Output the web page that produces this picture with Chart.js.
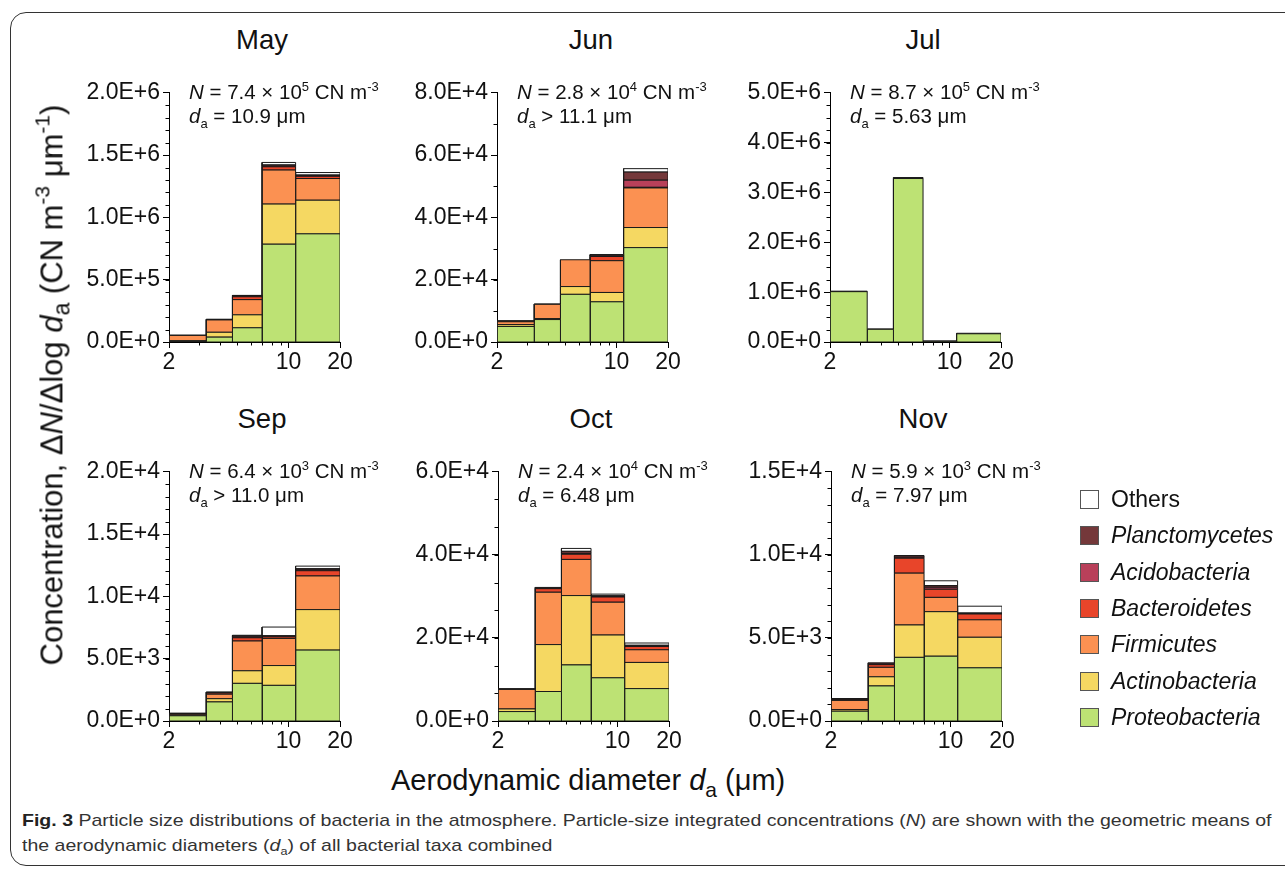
<!DOCTYPE html>
<html>
<head>
<meta charset="utf-8">
<script src="https://cdn.jsdelivr.net/npm/chart.js@4"></script>
<style>
  body { margin: 0; background: #fff; font-family: 'Liberation Sans', Arial, sans-serif; color: #111; }
  #page { position: relative; width: 1285px; height: 871px; overflow: hidden; }
  #frame { position: absolute; left: 10px; top: 12px; width: 1320px; height: 854px;
           border: 1.5px solid #333; border-radius: 16px; box-sizing: border-box; }
  .panel { position: absolute; }
  .title { position: absolute; font-size: 27.5px; transform: translate(-50%, -50%); white-space: nowrap; }
  .note  { position: absolute; font-size: 20.5px; white-space: nowrap; line-height: 1; }
  .note sup { font-size: 13px; vertical-align: 8px; }
  .note sub { font-size: 13px; vertical-align: -5px; }
  .axtitle { position: absolute; font-size: 29px; white-space: nowrap; line-height: 1; }
  .axtitle sup { font-size: 19px; vertical-align: 12px; }
  .axtitle sub { font-size: 21px; vertical-align: -7px; }
  #ytitle { font-size: 31px; }
  #ytitle sup { font-size: 21px; vertical-align: 13px; }
  #ytitle sub { font-size: 23px; vertical-align: -7px; }
  #legend { position: absolute; left: 1080px; top: 490px; }
  .lrow { position: absolute; left: 0; height: 20px; white-space: nowrap; }
  .lbox { position: absolute; left: 0; top: 0; width: 19px; height: 19px; border: 1px solid #555; box-sizing: border-box; }
  .ltxt { position: absolute; left: 31px; top: -4px; font-size: 23px; }
  .cap { position: absolute; left: 22px; font-size: 17px; color: #333; white-space: nowrap;
         font-family: 'Liberation Sans Narrow', 'Liberation Sans', sans-serif; transform-origin: 0 50%; }
  .cap b { color: #222; }
</style>
</head>
<body>
<div id="page">
  <div id="frame"></div>
  <div id="panels"></div>
  <div class="axtitle" id="ytitle">Concentration, Δ<i>N</i>/Δlog <i>d</i><sub>a</sub> (CN m<sup>-3</sup> μm<sup>-1</sup>)</div>
  <div class="axtitle" id="xtitle">Aerodynamic diameter <i>d</i><sub>a</sub> (μm)</div>
  <div id="legend"></div>
  <div class="cap" id="cap1" style="top:811px"><b>Fig. 3</b> Particle size distributions of bacteria in the atmosphere. Particle-size integrated concentrations (<i>N</i>) are shown with the geometric means of</div>
  <div class="cap" id="cap2" style="top:836px">the aerodynamic diameters (<i>d</i><sub style="font-size:11px">a</sub>) of all bacterial taxa combined</div>
</div>
<script>
// ── DATA ──────────────────────────────────────────
// size bin edges (µm) and taxa, bottom of stack first
const EDGES  = [2, 3.3, 4.7, 7.0, 11, 20];
const TAXA   = ['Proteobacteria', 'Actinobacteria', 'Firmicutes', 'Bacteroidetes', 'Acidobacteria', 'Planctomycetes', 'Others'];
const COLORS = ['#bde274', '#f5d862', '#fb9152', '#e8452a', '#b9405a', '#74383a', '#ffffff'];

const MONTHS = ['May', 'Jun', 'Jul', 'Sep', 'Oct', 'Nov'];
const Y_MAX   = [2e6, 8e4, 5e6, 2e4, 6e4, 1.5e4];
const Y_STEP  = [5e5, 2e4, 1e6, 5e3, 2e4, 5e3];
const Y_MINOR = [1e5, 1e4, 2.5e5, 1e3, 2e4 / 3, 1e3];
const X_TICKS = [2, 10, 20];
const X_MINOR = [3, 4, 5, 6, 7, 8, 9];

const N_MANT = ['7.4', '2.8', '8.7', '6.4', '2.4', '5.9'];
const N_EXP  = [5, 4, 5, 3, 4, 3];
const DA_OP  = ['=', '>', '=', '>', '=', '='];
const DA_VAL = ['10.9', '11.1', '5.63', '11.0', '6.48', '7.97'];

// rows follow TAXA order, columns follow the 5 size bins
const MAY = [
  [5e3, 3.9e4, 1.14e5, 7.85e5, 8.68e5],
  [5e3, 3.9e4, 1.04e5, 3.22e5, 2.70e5],
  [4.3e4, 9.9e4, 1.22e5, 2.73e5, 1.74e5],
  [2e3, 4e3, 2.3e4, 2.6e4, 1.8e4],
  [0, 0, 2e3, 5e3, 4e3],
  [0, 1e3, 8e3, 1e4, 6e3],
  [0, 0, 1e3, 2e4, 2e4]
];
const JUN = [
  [5.0e3, 7.2e3, 1.53e4, 1.29e4, 3.03e4],
  [6e2, 3e2, 2.5e3, 3.0e3, 6.45e3],
  [9e2, 4.6e3, 8.6e3, 1.02e4, 1.27e4],
  [2e2, 1e2, 0, 1.35e3, 2e2],
  [0, 0, 0, 1e2, 2.3e3],
  [1e2, 0, 0, 4e2, 2.6e3],
  [0, 0, 0, 1e2, 1.1e3]
];
const JUL = [
  [1.01e6, 2.55e5, 3.28e6, 1.5e4, 1.65e5],
  [0, 0, 0, 0, 0],
  [0, 0, 0, 0, 0],
  [0, 0, 0, 0, 0],
  [0, 0, 0, 0, 0],
  [0, 0, 0, 0, 0],
  [1e4, 5e3, 2e4, 5e3, 1e4]
];
const SEP = [
  [4.2e2, 1.53e3, 3.02e3, 2.86e3, 5.69e3],
  [6e1, 2.6e2, 1.01e3, 1.59e3, 3.25e3],
  [8e1, 3.6e2, 2.39e3, 2.18e3, 2.70e3],
  [3e1, 1e2, 2.6e2, 1.3e2, 4.2e2],
  [0, 0, 5e1, 3e1, 6e1],
  [2e1, 5e1, 1e2, 5e1, 1e2],
  [1e1, 2e1, 5e1, 7.0e2, 2.1e2]
];
const OCT = [
  [2.27e3, 7.1e3, 1.35e4, 1.04e4, 7.8e3],
  [6.3e2, 1.13e4, 1.67e4, 1.03e4, 6.3e3],
  [4.7e3, 1.26e4, 8.7e3, 7.9e3, 3.05e3],
  [1e2, 8.6e2, 1.25e3, 1.25e3, 7.8e2],
  [0, 1e2, 2e2, 1e2, 1e2],
  [5e1, 2e2, 5e2, 2e2, 2e2],
  [0, 0, 7e2, 4e2, 5.5e2]
];
const NOV = [
  [5.9e2, 2.11e3, 3.83e3, 3.9e3, 3.2e3],
  [1e2, 5.5e2, 1.95e3, 2.68e3, 1.84e3],
  [5.5e2, 5.7e2, 3.12e3, 8.6e2, 1.05e3],
  [6e1, 1.6e2, 9e2, 4.9e2, 3.5e2],
  [2e1, 5e1, 6e1, 1.2e2, 3e1],
  [3e1, 6e1, 1e2, 1e2, 3e1],
  [0, 0, 0, 2.9e2, 4.1e2]
];
const SERIES = [MAY, JUN, JUL, SEP, OCT, NOV];

// ── LAYOUT ────────────────────────────────────────
const PLOT_LEFT = [169, 497, 830, 169, 498, 831];
const PLOT_TOP  = [86, 86, 86, 465, 465, 465];
const TITLE_X   = [262, 591, 923, 262, 591, 923];
const PLOT_W = 171, PLOT_H = 256;
const PAD_L = 120, PAD_T = 10, PAD_R = 20, PAD_B = 40;
const FONT = "'Liberation Sans', Arial, sans-serif";

// minor ticks, drawn through the chart's own scales
const minorTicks = {
  id: 'minorTicks',
  afterDraw(chart, args, opts) {
    const { ctx, chartArea, scales: { x, y } } = chart;
    ctx.save();
    ctx.strokeStyle = '#000';
    ctx.lineWidth = 1;
    ctx.beginPath();
    const steps = Math.round(opts.yMax / opts.yMinor);
    for (let k = 1; k < steps; k++) {
      const py = Math.round(y.getPixelForValue(k * opts.yMinor)) + 0.5;
      ctx.moveTo(chartArea.left - 3.5, py);
      ctx.lineTo(chartArea.left, py);
    }
    X_MINOR.forEach(v => {
      const px = Math.round(x.getPixelForValue(v)) + 0.5;
      ctx.moveTo(px, chartArea.bottom);
      ctx.lineTo(px, chartArea.bottom + 3.5);
    });
    ctx.stroke();
    ctx.restore();
  }
};

function buildRects(series) {
  const sets = [];
  for (let b = 0; b < EDGES.length - 1; b++) {
    let base = 0;
    for (let t = 0; t < TAXA.length; t++) {
      const v = series[t][b];
      if (v > 0) {
        const x0 = EDGES[b], x1 = EDGES[b + 1], top = base + v;
        sets.push({
          label: TAXA[t],
          data: [{ x: x0, y: base }, { x: x1, y: base }, { x: x1, y: top }, { x: x0, y: top }, { x: x0, y: base }],
          showLine: true,
          fill: 'shape',
          backgroundColor: COLORS[t],
          borderColor: '#1a1a1a',
          borderWidth: 1,
          borderJoinStyle: 'miter',
          pointRadius: 0,
          pointHoverRadius: 0,
          tension: 0
        });
      }
      base += v;
    }
  }
  return sets;
}

const panels = document.getElementById('panels');
MONTHS.forEach((m, i) => {
  const W = PAD_L + PLOT_W + PAD_R, H = PAD_T + PLOT_H + PAD_B;
  const box = document.createElement('div');
  box.className = 'panel';
  box.style.left = (PLOT_LEFT[i] - PAD_L) + 'px';
  box.style.top = (PLOT_TOP[i] - PAD_T) + 'px';
  box.innerHTML = `<canvas width="${W}" height="${H}"></canvas>`;
  panels.appendChild(box);

  const t = document.createElement('div');
  t.className = 'title';
  t.style.left = TITLE_X[i] + 'px';
  t.style.top = (PLOT_TOP[i] - 46) + 'px';
  t.textContent = m;
  panels.appendChild(t);

  const n1 = document.createElement('div');
  n1.className = 'note';
  n1.style.left = (PLOT_LEFT[i] + 20) + 'px';
  n1.style.top = (PLOT_TOP[i] - 6) + 'px';
  n1.innerHTML = `<i>N</i> = ${N_MANT[i]} × 10<sup>${N_EXP[i]}</sup> CN m<sup>-3</sup>`;
  panels.appendChild(n1);

  const n2 = document.createElement('div');
  n2.className = 'note';
  n2.style.left = (PLOT_LEFT[i] + 20) + 'px';
  n2.style.top = (PLOT_TOP[i] + 20) + 'px';
  n2.innerHTML = `<i>d</i><sub>a</sub> ${DA_OP[i]} ${DA_VAL[i]} μm`;
  panels.appendChild(n2);

  const tickFont = { family: FONT, size: 23 };
  new Chart(box.querySelector('canvas'), {
    type: 'scatter',
    data: { datasets: buildRects(SERIES[i]) },
    options: {
      responsive: false,
      animation: false,
      events: [],
      layout: { padding: { left: 0, top: PAD_T, right: PAD_R, bottom: 0 } },
      plugins: {
        legend: { display: false },
        tooltip: { enabled: false },
        minorTicks: { yMax: Y_MAX[i], yMinor: Y_MINOR[i] }
      },
      scales: {
        x: {
          type: 'logarithmic',
          min: 2, max: 20,
          afterFit: s => { s.height = PAD_B; },
          afterBuildTicks: s => { s.ticks = X_TICKS.map(v => ({ value: v })); },
          ticks: { color: '#111', font: tickFont, padding: 1, maxRotation: 0, autoSkip: false,
                   major: { enabled: false }, callback: v => String(v) },
          grid: { display: true, drawOnChartArea: false, drawTicks: true, tickLength: 6, color: '#000' },
          border: { display: true, color: '#000', width: 1 }
        },
        y: {
          type: 'linear',
          min: 0, max: Y_MAX[i],
          afterFit: s => { s.width = PAD_L; },
          ticks: { stepSize: Y_STEP[i], color: '#111', font: tickFont, padding: 3,
                   callback: v => Number(v).toExponential(1).replace('e', 'E') },
          grid: { display: true, drawOnChartArea: false, drawTicks: true, tickLength: 6, color: '#000' },
          border: { display: true, color: '#000', width: 1 }
        }
      }
    },
    plugins: [minorTicks]
  });
});

// ── LEGEND ────────────────────────────────────────
const legend = document.getElementById('legend');
TAXA.slice().reverse().forEach((name, k) => {
  const idx = TAXA.length - 1 - k;
  const row = document.createElement('div');
  row.className = 'lrow';
  row.style.top = (k * 36.3) + 'px';
  const label = name === 'Others' ? name : `<i>${name}</i>`;
  row.innerHTML = `<span class="lbox" style="background:${COLORS[idx]}"></span><span class="ltxt">${label}</span>`;
  legend.appendChild(row);
});

// ── AXIS TITLES ───────────────────────────────────
const yt = document.getElementById('ytitle');
yt.style.left = (52 - yt.offsetWidth / 2) + 'px';
yt.style.top = (385 - yt.offsetHeight / 2) + 'px';
yt.style.transform = 'rotate(-90deg)';
const xt = document.getElementById('xtitle');
xt.style.left = (588 - xt.offsetWidth / 2) + 'px';
xt.style.top = (783 - xt.offsetHeight / 2) + 'px';

// caption squeezed to the reference line width
const c1 = document.getElementById('cap1'), c2 = document.getElementById('cap2');
const sx = 1250 / c1.offsetWidth;
c1.style.transform = `scaleX(${sx})`;
c2.style.transform = `scaleX(${sx})`;
</script>
</body>
</html>
